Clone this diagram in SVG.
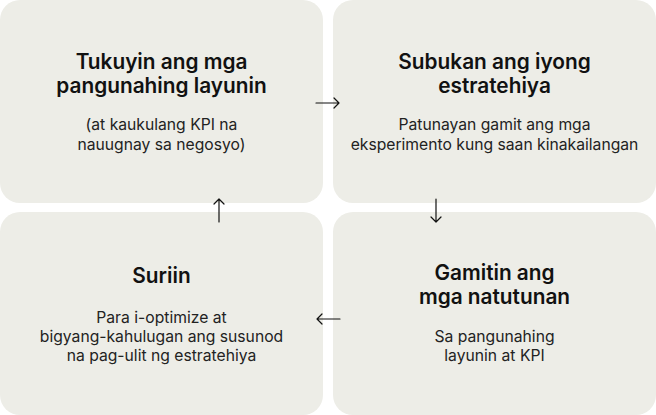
<svg xmlns="http://www.w3.org/2000/svg" width="656" height="415" viewBox="0 0 656 415">
<style>
.box{fill:#EDEDE7}
.t{font-family:Inter,"Liberation Sans",sans-serif;font-size:20.8px;font-weight:600;fill:#111;text-anchor:middle}
.s{font-family:Inter,"Liberation Sans",sans-serif;font-size:15.7px;font-weight:400;fill:#222;text-anchor:middle}
.c{stroke:#111;stroke-width:1.2;fill:none;stroke-linecap:round;stroke-linejoin:round}
</style>
<rect width="656" height="415" fill="#fff"/>
<g id="node-tukuyin">
<rect class="box" x="0" y="0" width="323" height="203" rx="20"/>
<text class="t" x="161.5" y="69">Tukuyin ang mga</text>
<text class="t" x="161.5" y="93">pangunahing layunin</text>
<text class="s" x="161.5" y="130">(at kaukulang KPI na</text>
<text class="s" x="161.5" y="150">nauugnay sa negosyo)</text>
</g>
<g id="node-subukan">
<rect class="box" x="333" y="0" width="323" height="203" rx="20"/>
<text class="t" x="494.5" y="69">Subukan ang iyong</text>
<text class="t" x="494.5" y="93">estratehiya</text>
<text class="s" x="494.5" y="130">Patunayan gamit ang mga</text>
<text class="s" x="494.5" y="150">eksperimento kung saan kinakailangan</text>
</g>
<g id="node-gamitin">
<rect class="box" x="333" y="212" width="323" height="203" rx="20"/>
<text class="t" x="494.5" y="280">Gamitin ang</text>
<text class="t" x="494.5" y="304">mga natutunan</text>
<text class="s" x="494.5" y="342">Sa pangunahing</text>
<text class="s" x="494.5" y="361">layunin at KPI</text>
</g>
<g id="node-suriin">
<rect class="box" x="0" y="212" width="323" height="203" rx="20"/>
<text class="t" x="161.5" y="283">Suriin</text>
<text class="s" x="161.5" y="323">Para i-optimize at</text>
<text class="s" x="161.5" y="342">bigyang-kahulugan ang susunod</text>
<text class="s" x="161.5" y="361">na pag-ulit ng estratehiya</text>
</g>
<g id="connectors">
<path class="c" d="M316 103H339M334 98L339 103L334 108"/>
<path class="c" d="M436 199V222M431 217L436 222L441 217"/>
<path class="c" d="M340 319H317M322 314L317 319L322 324"/>
<path class="c" d="M219 222V199M214 204L219 199L224 204"/>
</g>
</svg>
